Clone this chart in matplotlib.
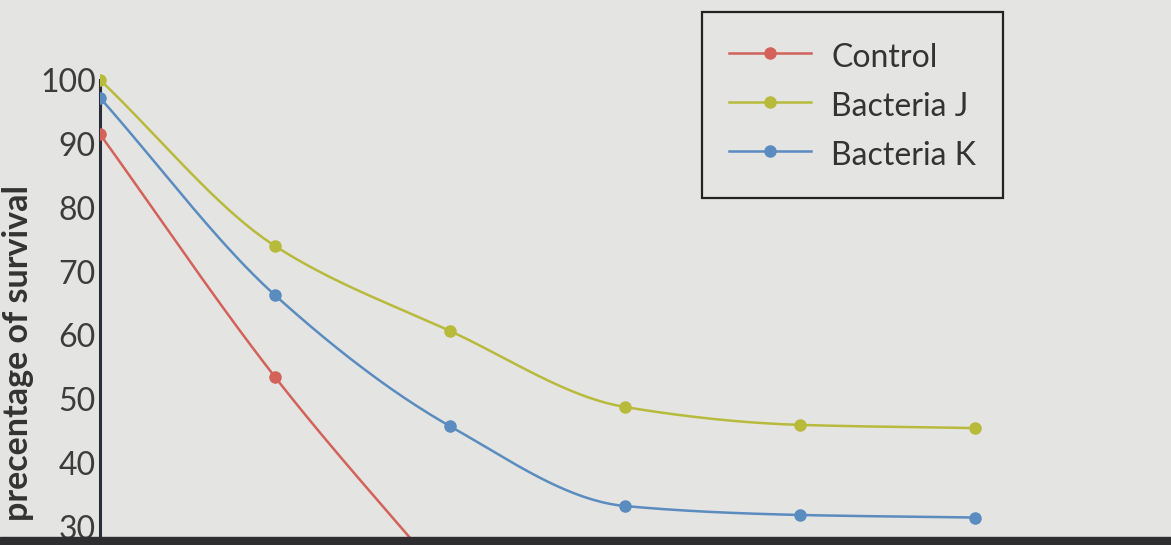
import matplotlib.pyplot as plt
import numpy as np

# days after treatment (evenly spaced on the chart)
days = [0, 1, 2, 3, 4, 5]
control = [91.5, 53.5, 21]
bacteria_j = [100, 74, 60.7, 48.8, 46, 45.5]
bacteria_k = [97.2, 66.3, 45.8, 33.3, 31.9, 31.5]
labels = ["Control", "Bacteria J", "Bacteria K"]
colors = ["#d2625a", "#b8ba3c", "#5a8cc0"]
yticks = [30, 40, 50, 60, 70, 80, 90, 100]


def smooth(x, y, n=200):
    # monotone cubic (Fritsch-Carlson) so the curve passes through each point
    x = np.asarray(x, float)
    y = np.asarray(y, float)
    h = np.diff(x)
    d = np.diff(y) / h
    m = np.zeros_like(y)
    m[0], m[-1] = d[0], d[-1]
    for i in range(1, len(y) - 1):
        if d[i - 1] * d[i] > 0:
            m[i] = 2 / (1 / d[i - 1] + 1 / d[i])
    xs = np.linspace(x[0], x[-1], n)
    k = np.clip(np.searchsorted(x, xs) - 1, 0, len(h) - 1)
    t = (xs - x[k]) / h[k]
    h00 = 2 * t**3 - 3 * t**2 + 1
    h10 = t**3 - 2 * t**2 + t
    h01 = -2 * t**3 + 3 * t**2
    h11 = t**3 - t**2
    ys = h00 * y[k] + h10 * h[k] * m[k] + h01 * y[k + 1] + h11 * h[k] * m[k + 1]
    return xs, ys


bg = "#e4e4e2"
fig = plt.figure(figsize=(11.71, 5.45), dpi=100, facecolor=bg)
ax = fig.add_axes([100 / 1171, 0, 1 - 100 / 1171, 1])
ax.set_facecolor(bg)

series = [control, bacteria_j, bacteria_k]
for vals, lab, col in zip(series, labels, colors):
    xs, ys = smooth(days[:len(vals)], vals)
    ax.plot(xs, ys, color=col, lw=1.8, zorder=3)
    ax.plot(days[:len(vals)], vals, "o", color=col, ms=8, zorder=4)
    ax.plot([], [], "-o", color=col, lw=1.8, ms=8, label=lab)

ax.set_xlim(0, 6.12)
ax.set_ylim(27.2, 112.5)
ax.set_yticks(yticks)
ax.set_xticks([])
for s in ["top", "right", "bottom"]:
    ax.spines[s].set_visible(False)
ax.spines["left"].set_color("#2a2d3a")
ax.spines["left"].set_linewidth(2.2)
ax.spines["left"].set_bounds(27.2, 100)
ax.tick_params(axis="y", length=0, pad=3, labelsize=23, labelcolor="#3c3c3c")
for t in ax.get_yticklabels():
    t.set_fontfamily("Lato")

leg = ax.legend(loc="upper left", bbox_to_anchor=(702 / 1171, 1 - 12 / 545),
                bbox_transform=fig.transFigure, frameon=True, fancybox=False,
                prop={"family": "Lato", "size": 23}, handlelength=2.56,
                handleheight=1.25, handletextpad=0.63, borderpad=0.85,
                labelspacing=0.48, borderaxespad=0)
leg.get_frame().set_edgecolor("#222222")
leg.get_frame().set_linewidth(1.6)
leg.get_frame().set_facecolor(bg)
leg.get_frame().set_alpha(None)
for t in leg.get_texts():
    t.set_color("#333333")

fig.text(18 / 1171, 1 - 185 / 545, "precentage of survival", rotation=90,
         ha="center", va="top", fontsize=24.5, fontweight="bold",
         family="Lato", color="#333333")

# dark edge along the bottom of the photo
fig.patches.append(plt.Rectangle((0, 0), 1, 8 / 545, transform=fig.transFigure,
                                 color="#2e2e30", zorder=10))

fig.savefig("out.png", dpi=100, facecolor=bg)
